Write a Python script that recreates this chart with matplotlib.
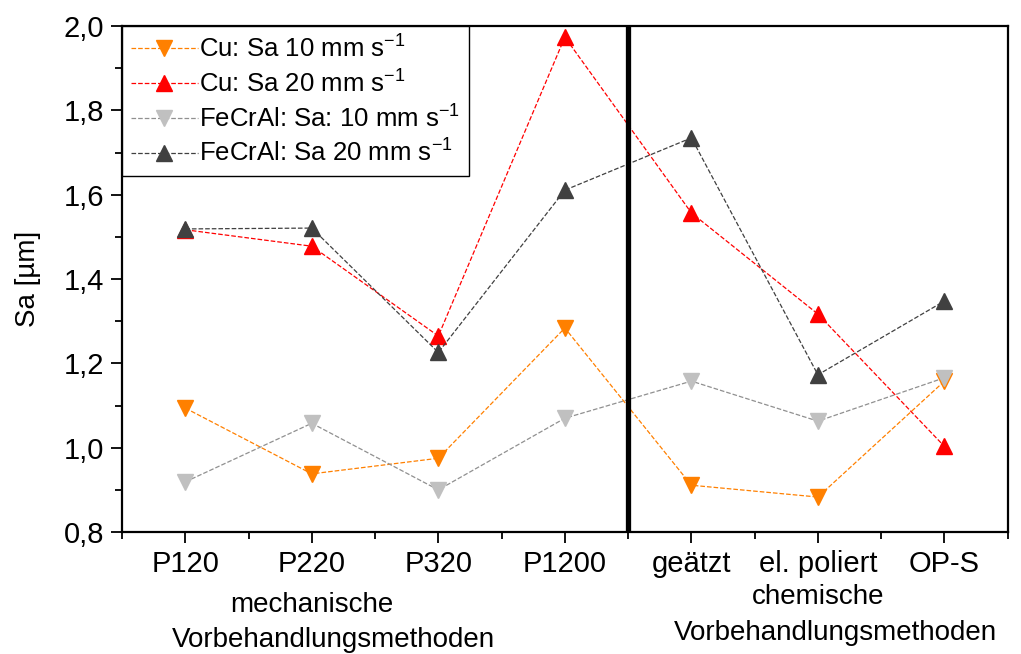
import numpy as np
import matplotlib.pyplot as plt
from matplotlib.ticker import MultipleLocator

plt.rcParams['font.family'] = ['Liberation Sans', 'DejaVu Sans']
plt.rcParams['mathtext.default'] = 'regular'

categories = ["P120", "P220", "P320", "P1200", "geätzt", "el. poliert", "OP-S"]
cu_10 = [1.094, 0.938, 0.975, 1.284, 0.911, 0.883, 1.158]
cu_20 = [1.517, 1.478, 1.265, 1.974, 1.557, 1.317, 1.003]
fecral_10 = [0.919, 1.058, 0.900, 1.070, 1.158, 1.063, 1.166]
fecral_20 = [1.519, 1.521, 1.226, 1.611, 1.735, 1.173, 1.348]

x = np.arange(1, len(categories) + 1)
fs = 21

fig = plt.figure(figsize=(10.21, 6.54), dpi=100)
ax = fig.add_axes([0.1195, 0.1865, 0.8675, 0.7735])

ax.plot(x, cu_10, ls="--", lw=0.9, color="#FF8000", marker="v", ms=11,
        mec="#FF8000", label="Cu: Sa 10 mm s$^{-1}$")
ax.plot(x, cu_20, ls="--", lw=0.9, color="#FF0000", marker="^", ms=11,
        mec="#FF0000", label="Cu: Sa 20 mm s$^{-1}$")
ax.plot(x, fecral_10, ls="--", lw=0.9, color="#909090", marker="v", ms=11,
        mfc="#C0C0C0", mec="#C0C0C0", label="FeCrAl: Sa: 10 mm s$^{-1}$")
ax.plot(x, fecral_20, ls="--", lw=0.9, color="#404040", marker="^", ms=11,
        mfc="#404040", mec="#404040", label="FeCrAl: Sa 20 mm s$^{-1}$")

# trennlinie mechanisch / chemisch
ax.axvline(4.5, color="black", lw=3.8)

ax.set_xlim(0.5, 7.5)
ax.set_ylim(0.8, 2.0)
ax.set_xticks(x)
ax.set_xticklabels(categories, fontsize=fs)
ax.xaxis.set_minor_locator(MultipleLocator(0.5))
ax.yaxis.set_major_locator(MultipleLocator(0.2))
ax.yaxis.set_minor_locator(MultipleLocator(0.1))
ax.yaxis.set_major_formatter(lambda v, p: f"{v:.1f}".replace(".", ","))
ax.tick_params(axis="y", labelsize=fs)
ax.tick_params(which="both", direction="out", width=1.3)
ax.tick_params(which="major", length=8, pad=5)
ax.tick_params(which="minor", length=5)
for s in ax.spines.values():
    s.set_linewidth(1.6)

ax.set_ylabel("Sa [µm]", fontsize=fs - 1, labelpad=16)

# gruppenbeschriftung unter den kategorien
tr = ax.get_xaxis_transform()
ax.text(2, -0.144, "mechanische", transform=tr, ha="center", va="center", fontsize=fs - 1)
ax.text(2.17, -0.213, "Vorbehandlungsmethoden", transform=tr, ha="center", va="center", fontsize=fs - 1)
ax.text(6, -0.128, "chemische", transform=tr, ha="center", va="center", fontsize=fs - 1)
ax.text(6.14, -0.199, "Vorbehandlungsmethoden", transform=tr, ha="center", va="center", fontsize=fs - 1)

leg = ax.legend(loc="upper left", fontsize=18.5, frameon=True, fancybox=False,
                edgecolor="black", framealpha=1, handlelength=2.6, handletextpad=0.05,
                borderaxespad=0.0, labelspacing=0.3, borderpad=0.35)
leg.get_frame().set_linewidth(1.0)

fig.savefig("out.png", dpi=100)
